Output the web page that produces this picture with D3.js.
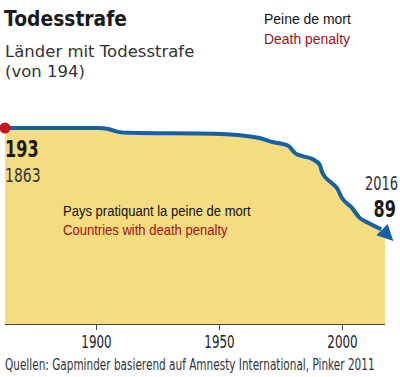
<!DOCTYPE html>
<html>
<head>
<meta charset="utf-8">
<script src="https://cdn.jsdelivr.net/npm/d3@7"></script>
<style>
  body { margin: 0; background: #fff; }
  .cond { font-family: "DejaVu Sans", sans-serif; }
  .sans { font-family: "Liberation Sans", Arial, sans-serif; }
</style>
</head>
<body>
<div class="canvas"></div>
<script>
// countries with death penalty
const years = [1863, 1901, 1905, 1909, 1914, 1948, 1966, 1971, 1978, 1981, 1984, 1988, 1991, 1992, 1996, 1998, 2000, 2004, 2007, 2011, 2015, 2016];
const counts = [193, 193, 192, 189, 188, 187, 183, 179, 175, 167, 164, 161, 155, 147, 136, 131, 121, 111, 101, 95, 90, 89];
const tickYears = [1900, 1950, 2000];

const svgWidth = 400;
const svgHeight = 377;
const bottom = 324;

const svg = d3
  .select(".canvas")
  .append("svg")
  .attr("width", svgWidth)
  .attr("height", svgHeight);

const data = years.map((d, i) => ({ year: d, count: counts[i] }));
const first = data[0];
const last = data[data.length - 1];

const x = d3.scaleLinear().domain([1863, 2017.5]).range([5, 385]);
const y = d3.scaleLinear().domain([89, 193]).range([229, 128]);

// area reaches the right edge of the plot
const areaData = data.concat([{ year: x.domain()[1], count: last.count }]);

const area = d3
  .area()
  .x(d => x(d.year))
  .y0(bottom)
  .y1(d => y(d.count))
  .curve(d3.curveMonotoneX);

svg.append("path")
  .datum(areaData)
  .attr("fill", "#f6dc80")
  .attr("d", area);

// x axis
const xAxis = d3.axisBottom(x)
  .tickValues(tickYears)
  .tickSize(6)
  .tickFormat(d3.format("d"));

const xAxisGroup = svg.append("g")
  .attr("transform", `translate(0, ${bottom})`)
  .call(xAxis);
xAxisGroup.select(".domain").attr("stroke", "#444").attr("d", `M${x.range()[0]},0.5H${x.range()[1]}`);
xAxisGroup.selectAll(".tick line").attr("stroke", "#444");
xAxisGroup.selectAll("text")
  .attr("class", "cond")
  .attr("font-size", 17)
  .attr("fill", "#222")
  .attr("y", 0)
  .attr("dy", 0)
  .attr("transform", "translate(0, 24) scale(0.7, 1)");

const line = d3
  .line()
  .x(d => x(d.year))
  .y(d => y(d.count))
  .curve(d3.curveMonotoneX);

svg.append("path")
  .datum(data)
  .attr("fill", "none")
  .attr("stroke", "#1660a8")
  .attr("stroke-width", 4)
  .attr("stroke-linejoin", "round")
  .attr("d", line);

// arrow head at the end of the line
svg.append("path")
  .attr("transform", `translate(${x(last.year)}, ${y(last.count)}) rotate(45)`)
  .attr("d", "M1,-8L17,0L1,8Z")
  .attr("fill", "#1660a8");

svg.append("circle")
  .attr("cx", x(first.year))
  .attr("cy", y(first.count))
  .attr("r", 5.5)
  .attr("fill", "#c8161e");

// texts, squeezed horizontally to mimic the condensed face
const text = (cls, tx, ty, size, weight, fill, str, sx, anchor) =>
  svg.append("text")
    .attr("class", cls)
    .attr("transform", `translate(${tx}, ${ty}) scale(${sx}, 1)`)
    .attr("font-size", size)
    .attr("font-weight", weight)
    .attr("fill", fill)
    .attr("text-anchor", anchor || "start")
    .text(str);

text("cond", 4, 26, 22, "bold", "#1a1a1a", "Todesstrafe", 0.85);
text("cond", 5, 57, 16.5, "normal", "#333", "Länder mit Todesstrafe", 1);
text("cond", 5, 76.5, 16.5, "normal", "#333", "(von 194)", 1);

text("sans", 264, 24, 15.5, "normal", "#111", "Peine de mort", 0.9);
text("sans", 264, 44, 15.5, "normal", "#a50f12", "Death penalty", 0.9);

text("cond", 5, 157, 23, "bold", "#1a1a1a", first.count, 0.7);
text("cond", 5, 182, 20, "normal", "#333", first.year, 0.7);

text("cond", 398, 190, 20, "normal", "#333", last.year, 0.65, "end");
text("cond", 396, 217, 23, "bold", "#1a1a1a", last.count, 0.7, "end");

text("sans", 63, 216, 15, "normal", "#111", "Pays pratiquant la peine de mort", 0.87);
text("sans", 63, 235, 15, "normal", "#a50f12", "Countries with death penalty", 0.87);

text("cond", 5, 370, 15, "normal", "#333", "Quellen: Gapminder basierend auf Amnesty International, Pinker 2011", 0.7);
</script>
</body>
</html>
